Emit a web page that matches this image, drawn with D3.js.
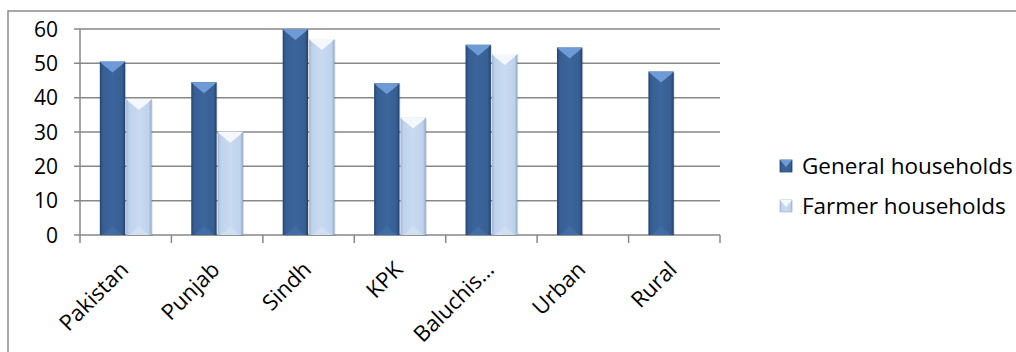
<!DOCTYPE html>
<html>
<head>
<meta charset="utf-8">
<script src="https://cdn.jsdelivr.net/npm/d3@7"></script>
<style>
  body { margin: 0; background: #fff; }
  svg { display: block; }
  text { font-family: "Open Sans", Lato, sans-serif; fill: #000; }
</style>
</head>
<body>
<svg></svg>
<script>
var categories = ['Pakistan', 'Punjab', 'Sindh', 'KPK', 'Baluchis\u2026', 'Urban', 'Rural'];
var seriesNames = ['General households', 'Farmer households'];
var general = [50.5, 44.5, 60, 44.2, 55.4, 54.6, 47.6];
var farmer = [39.6, 30.1, 57.1, 34.2, 52.7, null, null];
var yTicks = [0, 10, 20, 30, 40, 50, 60];

var svg = d3.select('svg')
    .attr('width', 1016)
    .attr('height', 352),
    plotL = 80, plotR = 720, plotT = 29, plotB = 235;

// chart frame (right and bottom edges fall outside the picture)
svg.append('rect')
    .attr('x', 8).attr('y', 11)
    .attr('width', 1100).attr('height', 400)
    .attr('fill', 'none')
    .attr('stroke', '#8a8a8a')
    .attr('stroke-width', 1.5);

var x = d3.scaleBand().domain(categories).range([plotL, plotR]).paddingInner(0).paddingOuter(0);
var y = d3.scaleLinear().domain([0, 60]).range([plotB, plotT]);
var inner = d3.scaleBand().domain([0, 1]).range([0, x.bandwidth()]).paddingOuter(0.75).paddingInner(0.04);

var defs = svg.append('defs');
function grad(id, stops) {
    var g = defs.append('linearGradient').attr('id', id)
        .attr('x1', '0%').attr('x2', '100%').attr('y1', '0%').attr('y2', '0%');
    stops.forEach((s) => g.append('stop').attr('offset', s[0]).attr('stop-color', s[1]));
}
grad('gDark', [['0%', '#264470'], ['12%', '#375f94'], ['50%', '#3b659c'], ['88%', '#375f94'], ['100%', '#22406a']]);
grad('gLight', [['0%', '#9fb6d6'], ['12%', '#bfd3ec'], ['50%', '#c8daf0'], ['88%', '#bfd3ec'], ['100%', '#94abcc']]);

var styles = [
    {fill: 'url(#gDark)', cap: '#6e9bd6', foot: '#446fa8'},
    {fill: 'url(#gLight)', cap: '#f4f8fd', foot: '#d4e2f3'}
];

// gridlines
svg.append('g')
    .selectAll('line')
    .data(yTicks)
    .enter()
    .append('line')
        .attr('x1', plotL - 6)
        .attr('x2', plotR)
        .attr('y1', (d) => y(d))
        .attr('y2', (d) => y(d))
        .attr('stroke', '#878787')
        .attr('stroke-width', 1.5);

// y labels
svg.append('g')
    .selectAll('text')
    .data(yTicks)
    .enter()
    .append('text')
        .attr('x', 58)
        .attr('y', (d) => y(d))
        .attr('dy', '0.36em')
        .attr('text-anchor', 'end')
        .style('font-size', '21px')
        .text((d) => d);

// y axis line
svg.append('line')
    .attr('x1', plotL).attr('x2', plotL)
    .attr('y1', plotT).attr('y2', plotB)
    .attr('stroke', '#878787').attr('stroke-width', 1.5);

// x ticks
svg.append('g')
    .selectAll('line')
    .data(categories.map((c) => x(c)).concat([plotR]))
    .enter()
    .append('line')
        .attr('x1', (d) => d).attr('x2', (d) => d)
        .attr('y1', plotB).attr('y2', plotB + 8)
        .attr('stroke', '#878787').attr('stroke-width', 1.5);

// bars
var rows = [];
categories.forEach((c, i) => {
    [general[i], farmer[i]].forEach((v, s) => {
        if (v !== null) rows.push({cat: c, s: s, v: v});
    });
});

var bars = svg.append('g')
    .selectAll('g')
    .data(rows)
    .enter()
    .append('g')
        .attr('transform', (d) => 'translate(' + (x(d.cat) + inner(d.s)) + ',0)');

var bw = inner.bandwidth();
bars.append('rect')
    .attr('x', 1).attr('y', (d) => y(d.v) + 1)
    .attr('width', bw).attr('height', (d) => plotB - y(d.v))
    .attr('fill', '#000').attr('opacity', 0.12);
bars.append('rect')
    .attr('x', 0).attr('y', (d) => y(d.v))
    .attr('width', bw).attr('height', (d) => plotB - y(d.v))
    .attr('fill', (d) => styles[d.s].fill);
bars.append('path')
    .attr('d', (d) => {
        var t = y(d.v);
        return 'M0,' + t + 'L' + bw + ',' + t + 'L' + (bw - 3) + ',' + (t + 3) +
            'L' + (bw / 2) + ',' + (t + 11) + 'L3,' + (t + 3) + 'Z';
    })
    .attr('fill', (d) => styles[d.s].cap);
bars.append('path')
    .attr('d', 'M3,' + plotB + 'L' + (bw - 3) + ',' + plotB + 'L' + (bw / 2) + ',' + (plotB - 9) + 'Z')
    .attr('fill', (d) => styles[d.s].foot)
    .attr('opacity', 0.7);

// x labels
svg.append('g')
    .selectAll('text')
    .data(categories)
    .enter()
    .append('text')
        .attr('transform', (d) => 'translate(' + (x(d) + x.bandwidth() / 2 + 4) + ',271) rotate(-45)')
        .attr('text-anchor', 'end')
        .style('font-size', '22px')
        .text((d) => d);

// legend
var legend = svg.append('g')
    .selectAll('g')
    .data(seriesNames)
    .enter()
    .append('g')
        .attr('transform', (d, i) => 'translate(780,' + (166 + i * 40) + ')');
legend.append('rect')
    .attr('x', 0).attr('y', -6)
    .attr('width', 12).attr('height', 12)
    .attr('fill', (d, i) => styles[i].fill)
    .attr('stroke', (d, i) => i === 0 ? '#2a4a75' : '#a8bcd8')
    .attr('stroke-width', 0.8);
legend.append('path')
    .attr('d', 'M0,-6L12,-6L6,1Z')
    .attr('fill', (d, i) => styles[i].cap);
legend.append('text')
    .attr('x', 22)
    .attr('dy', '0.36em')
    .style('font-size', '22.5px')
    .text((d) => d);
</script>
</body>
</html>
